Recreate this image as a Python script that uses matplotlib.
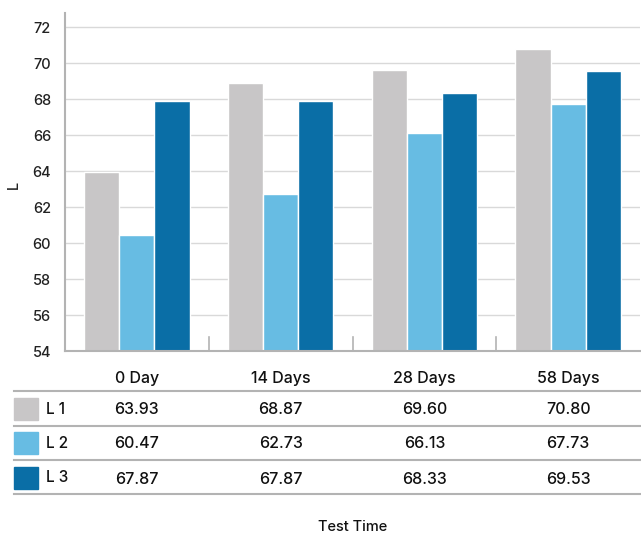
import numpy as np
import matplotlib.pyplot as plt
from matplotlib.transforms import blended_transform_factory
from matplotlib.patches import Rectangle

plt.rcParams['font.family'] = ['Inter', 'DejaVu Sans']
plt.rcParams['font.weight'] = 'medium'

categories = ['0 Day', '14 Days', '28 Days', '58 Days']
series_names = ['L 1', 'L 2', 'L 3']
l1 = [63.93, 68.87, 69.60, 70.80]
l2 = [60.47, 62.73, 66.13, 67.73]
l3 = [67.87, 67.87, 68.33, 69.53]
colors = ['#c8c6c7', '#67bce3', '#0a6ea6']

W, H = 641, 534
fig = plt.figure(figsize=(W / 100, H / 100), dpi=100)
ax = fig.add_axes([65 / W, 1 - 351 / H, 575 / W, 338 / H])

x = np.arange(len(categories))
width = 0.245
for i, vals in enumerate([l1, l2, l3]):
    ax.bar(x + (i - 1) * width, np.array(vals) - 54, width=width, bottom=54,
           color=colors[i], edgecolor='white', linewidth=1.0, zorder=3)

ax.set_xlim(-0.5, len(categories) - 0.5)
ax.set_ylim(54, 54 + 338 / 18)
ax.set_yticks(np.arange(54, 73, 2))
ax.tick_params(axis='y', length=0, labelsize=10.5, pad=10, colors='#222222')
ax.tick_params(axis='x', length=0, labelbottom=False)
ax.grid(axis='y', color='#d9d9d9', linewidth=1.0, zorder=0)
for s in ['top', 'right']:
    ax.spines[s].set_visible(False)
ax.spines['left'].set_color('#b3b3b3')
ax.spines['left'].set_linewidth(1.5)
ax.spines['bottom'].set_color('#b3b3b3')
ax.spines['bottom'].set_linewidth(1.5)
ax.spines['bottom'].set_zorder(4)

# small separators between groups
for b in x[:-1] + 0.5:
    ax.plot([b, b], [54, 54.8], color='#b3b3b3', linewidth=1.2, zorder=2,
            clip_on=False)

fig.text(14 / W, 1 - 185 / H, 'L', rotation=90, ha='center', va='center',
         fontsize=10.5, color='#222222')

# data table beneath the bars
tr = blended_transform_factory(ax.transData, fig.transFigure)
fy = lambda py: 1 - py / H

for c, name in zip(x, categories):
    fig.text(c, fy(378), name, transform=tr, ha='center', va='center',
             fontsize=11.5, color='#111111')

for py in [391, 425.5, 460, 494]:
    fig.add_artist(plt.Line2D([14 / W, 640 / W], [fy(py), fy(py)],
                              color='#b3b3b3', linewidth=1.5))

row_y = [409, 443, 478]
for name, vals, col, ry in zip(series_names, [l1, l2, l3], colors, row_y):
    fig.add_artist(Rectangle((14 / W, fy(ry + 11)), 24 / W, 22 / H,
                             transform=fig.transFigure, color=col))
    fig.text(46 / W, fy(ry), name, ha='left', va='center', fontsize=11,
             color='#111111')
    for c, v in zip(x, vals):
        fig.text(c, fy(ry + 1), f'{v:.2f}', transform=tr, ha='center',
                 va='center', fontsize=11.5, color='#111111')

fig.text(353 / W, fy(527), 'Test Time', ha='center', va='center',
         fontsize=10.5, color='#111111')

fig.savefig('out.png', dpi=100)
